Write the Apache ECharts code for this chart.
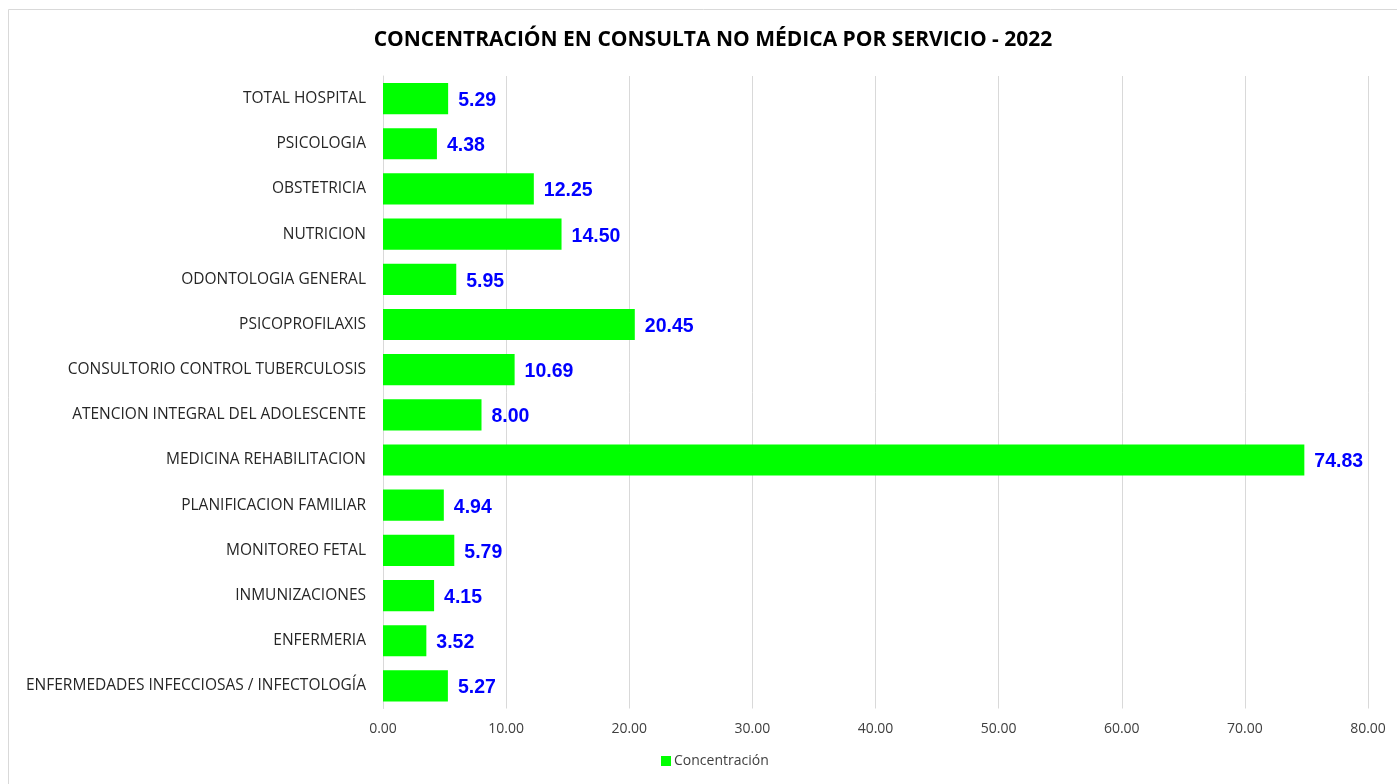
<!DOCTYPE html>
<html>
<head>
<meta charset="utf-8">
<script src="https://cdn.jsdelivr.net/npm/echarts@6/dist/echarts.min.js"></script>
<style>
  html, body { margin: 0; padding: 0; background: #fff; }
  #chart { width: 1397px; height: 784px; }
</style>
</head>
<body>
<div id="chart"></div>
<script>
// bottom to top, same order as the y axis
const categories = [
  "ENFERMEDADES INFECCIOSAS / INFECTOLOGÍA",
  "ENFERMERIA",
  "INMUNIZACIONES",
  "MONITOREO FETAL",
  "PLANIFICACION FAMILIAR",
  "MEDICINA REHABILITACION",
  "ATENCION INTEGRAL DEL ADOLESCENTE",
  "CONSULTORIO CONTROL TUBERCULOSIS",
  "PSICOPROFILAXIS",
  "ODONTOLOGIA GENERAL",
  "NUTRICION",
  "OBSTETRICIA",
  "PSICOLOGIA",
  "TOTAL HOSPITAL"
];
const concentracion = [5.27, 3.52, 4.15, 5.79, 4.94, 74.83, 8.00, 10.69, 20.45, 5.95, 14.50, 12.25, 4.38, 5.29];
const xTicks = { min: 0, max: 80, interval: 10 };

const chart = echarts.init(document.getElementById("chart"));
chart.setOption({
  animation: false,
  backgroundColor: "#fff",
  graphic: [{
    type: "rect",
    shape: { x: 8.5, y: 9.5, width: 1400, height: 790 },
    style: { fill: "none", stroke: "#d9d9d9", lineWidth: 1 },
    silent: true
  }],
  title: {
    text: "CONCENTRACIÓN EN CONSULTA NO MÉDICA POR SERVICIO - 2022",
    left: 708,
    textAlign: "center",
    top: 25,
    textStyle: {
      fontFamily: "Open Sans",
      fontSize: 21,
      fontWeight: "bold",
      color: "#000"
    }
  },
  legend: {
    bottom: 11,
    left: 656,
    itemWidth: 10,
    itemHeight: 10,
    itemGap: 4,
    icon: "rect",
    textStyle: { fontFamily: "Open Sans", fontSize: 14, color: "#404040", padding: [0, 0, 0, -2] },
    data: ["Concentración"]
  },
  grid: { left: 383, right: 29, top: 76, bottom: 75.5, containLabel: false },
  xAxis: {
    type: "value",
    min: xTicks.min,
    max: xTicks.max,
    interval: xTicks.interval,
    axisLine: { show: false },
    axisTick: { show: false },
    splitLine: { lineStyle: { color: "#d9d9d9", width: 1 } },
    axisLabel: {
      margin: 14,
      fontFamily: "Open Sans",
      fontSize: 14,
      color: "#404040",
      formatter: v => v.toFixed(2)
    }
  },
  yAxis: {
    type: "category",
    data: categories,
    axisLine: { show: true, lineStyle: { color: "#d9d9d9" } },
    axisTick: { show: false },
    axisLabel: {
      margin: 17,
      padding: [3, 0, 0, 0],
      fontFamily: "Open Sans",
      fontSize: 15.5,
      color: "#262626"
    }
  },
  series: [{
    name: "Concentración",
    type: "bar",
    data: concentracion,
    barCategoryGap: "31%",
    itemStyle: { color: "#00ff00" },
    label: {
      show: true,
      position: "right",
      distance: 10,
      offset: [0, 2],
      formatter: p => p.value.toFixed(2),
      fontFamily: "Liberation Sans",
      fontSize: 19.5,
      fontWeight: "bold",
      color: "#0000ff"
    }
  }]
});
</script>
</body>
</html>
